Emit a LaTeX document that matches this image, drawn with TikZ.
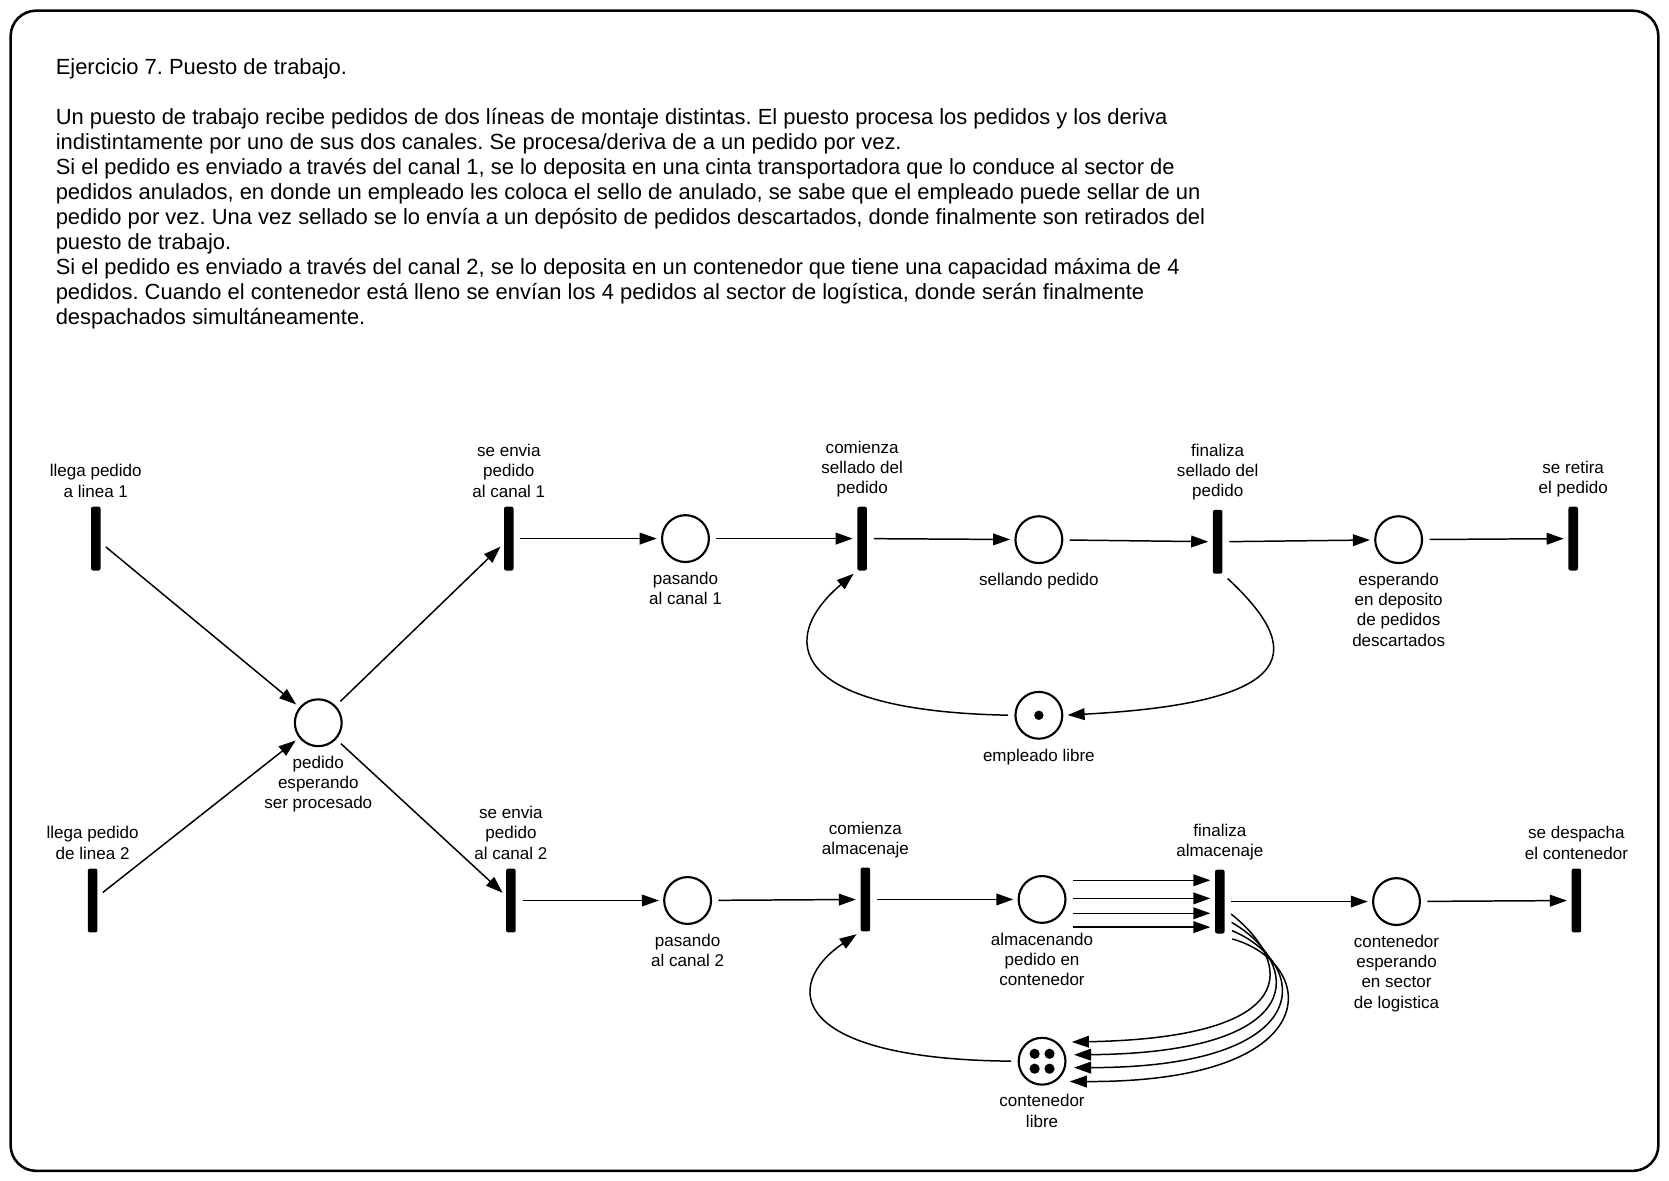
\documentclass[tikz,border=0pt]{standalone}
\usepackage{fontspec}
\setmainfont{Liberation Sans}
\usetikzlibrary{arrows.meta}
\usetikzlibrary{positioning}
\usetikzlibrary{calc}
\frenchspacing
\tikzset{trans/.style = {fill, rectangle, rounded corners = 1pt, inner sep = 0,
                         minimum width = 4.5pt, minimum height = 30pt}}
\tikzset{place/.style = {draw, circle, line width = 1pt, inner sep = 0, minimum size = 22pt}}
\tikzset{lbl/.style = {align = center, inner sep = 0, font = \fontsize{8}{9.5}\selectfont}}
\tikzset{txt/.style = {align = left, inner sep = 0, anchor = base west,
                       font = \fontsize{10.3}{11.75}\selectfont}}
\tikzset{arc/.style = {-{Triangle[length = 8pt, width = 5.5pt]}, line width = 0.7pt,
                       shorten < = 3pt, shorten > = 2pt}}

\begin{document}
\begin{tikzpicture}[x=0.5pt, y=-0.5pt]
    \useasboundingbox (0, 0) rectangle (1568, 1108.6);
    \draw [line width = 1.2pt, rounded corners = 12pt] (10, 10) rectangle (1558, 1100);
    \node [txt] (titulo) at (52, 70) {Ejercicio 7. Puesto de trabajo.};
    \node [txt] (enunciado) at (52, 305) {Un puesto de trabajo recibe pedidos de dos líneas de montaje distintas. El puesto procesa los pedidos y los deriva\\
      indistintamente por uno de sus dos canales. Se procesa/deriva de a un pedido por vez.\\
      Si el pedido es enviado a través del canal 1, se lo deposita en una cinta transportadora que lo conduce al sector de\\
      pedidos anulados, en donde un empleado les coloca el sello de anulado, se sabe que el empleado puede sellar de un\\
      pedido por vez. Una vez sellado se lo envía a un depósito de pedidos descartados, donde finalmente son retirados del\\
      puesto de trabajo.\\
      Si el pedido es enviado a través del canal 2, se lo deposita en un contenedor que tiene una capacidad máxima de 4\\
      pedidos. Cuando el contenedor está lleno se envían los 4 pedidos al sector de logística, donde serán finalmente\\
      despachados simultáneamente.};

    \node [trans] (t1) at (90, 506) {};
    \node [lbl, above = 4pt of t1] (l1) {llega pedido\\a linea 1};
    \node [trans] (t2) at (87, 846) {};
    \node [lbl, above = 4pt of t2] (l2) {llega pedido\\de linea 2};
    \node [place] (p0) at (299, 679) {};
    \node [lbl, below = 4pt of p0] (l0) {pedido\\esperando\\ser procesado};
    \node [trans] (t3) at (478, 506) {};
    \node [lbl, above = 4pt of t3] (l3) {se envia\\pedido\\al canal 1};
    \node [trans] (t4) at (480, 846) {};
    \node [lbl, above = 4pt of t4] (l4) {se envia\\pedido\\al canal 2};
    \node [place] (p1) at (644, 506) {};
    \node [lbl, below = 4pt of p1] (lp1) {pasando\\al canal 1};
    \node [place] (p5) at (646, 846) {};
    \node [lbl, below = 4pt of p5] (lp5) {pasando\\al canal 2};
    \node [trans] (t5) at (810, 506) {};
    \node [lbl, above = 4pt of t5] (l5) {comienza\\sellado del\\pedido};
    \node [trans] (t8) at (813, 845) {};
    \node [lbl, above = 4pt of t8] (l8) {comienza\\almacenaje};
    \node [place] (p2) at (976, 507) {};
    \node [lbl, below = 4pt of p2] (lp2) {sellando pedido};
    \node [place] (p6) at (979, 845) {};
    \node [lbl, below = 4pt of p6] (lp6) {almacenando\\pedido en\\contenedor};
    \node [trans] (t6) at (1144, 509) {};
    \node [lbl, above = 4pt of t6] (l6) {finaliza\\sellado del\\pedido};
    \node [trans] (t9) at (1146, 847) {};
    \node [lbl, above = 4pt of t9] (l9) {finaliza\\almacenaje};
    \node [place] (p3) at (1314, 507) {};
    \node [lbl, below = 4pt of p3] (lp3) {esperando\\en deposito\\de pedidos\\descartados};
    \node [place] (p7) at (1312, 847) {};
    \node [lbl, below = 4pt of p7] (lp7) {contenedor\\esperando\\en sector\\de logistica};
    \node [trans] (t7) at (1478, 506) {};
    \node [lbl, above = 4pt of t7] (l7) {se retira\\el pedido};
    \node [trans] (t10) at (1481, 846) {};
    \node [lbl, above = 4pt of t10] (l10) {se despacha\\el contenedor};
    \node [place] (p4) at (976, 672) {};
    \node [lbl, below = 4pt of p4] (lp4) {empleado libre};
    \node [place] (p8) at (979, 997) {};
    \node [lbl, below = 4pt of p8] (lp8) {contenedor\\libre};

    \fill (p4) circle (2.2pt);
    \foreach \dx/\dy in {-7/-7, 7/-7, -7/7, 7/7}
      \fill ($(p8) + (\dx, \dy)$) circle (2.4pt);

    \draw [arc] (t1) -- (p0);
    \draw [arc] (t2) -- (p0);
    \draw [arc] (p0) -- (t3);
    \draw [arc] (p0) -- (t4);
    \draw [arc] (t3) -- (p1);
    \draw [arc] (p1) -- (t5);
    \draw [arc] (t5) -- (p2);
    \draw [arc] (p2) -- (t6);
    \draw [arc] (t6) -- (p3);
    \draw [arc] (p3) -- (t7);
    \draw [arc] (t4) -- (p5);
    \draw [arc] (p5) -- (t8);
    \draw [arc] (t8) -- (p6);
    \draw [arc] (t9) -- (p7);
    \draw [arc] (p7) -- (t10);
    \foreach \dy in {-18, -1, 13, 26}
      \draw [arc] ($(p6.east) + (0, \dy)$) -- ($(t9.west) + (0, \dy - 2)$);
    \draw [arc] (t6.south east) .. controls (1225, 610) and (1225, 660) .. (p4.east);
    \draw [arc] (p4.west) .. controls (740, 668) and (730, 600) .. (t5.south west);
    \draw [arc] (p8.west) .. controls (740, 995) and (735, 925) .. (t8.south west);
    \foreach \i/\ex/\ey in {0/24/-18, 1/26/-6, 2/26/6, 3/22/19}
      \draw [arc] ($(t9.east) + (1, 8 + 8.5 * \i)$) .. controls (1215 + 8 * \i, 905) and (1225 + 8 * \i, 975 + 14 * \i) .. ($(p8) + (\ex, \ey)$);
  \end{tikzpicture}
\end{document}
